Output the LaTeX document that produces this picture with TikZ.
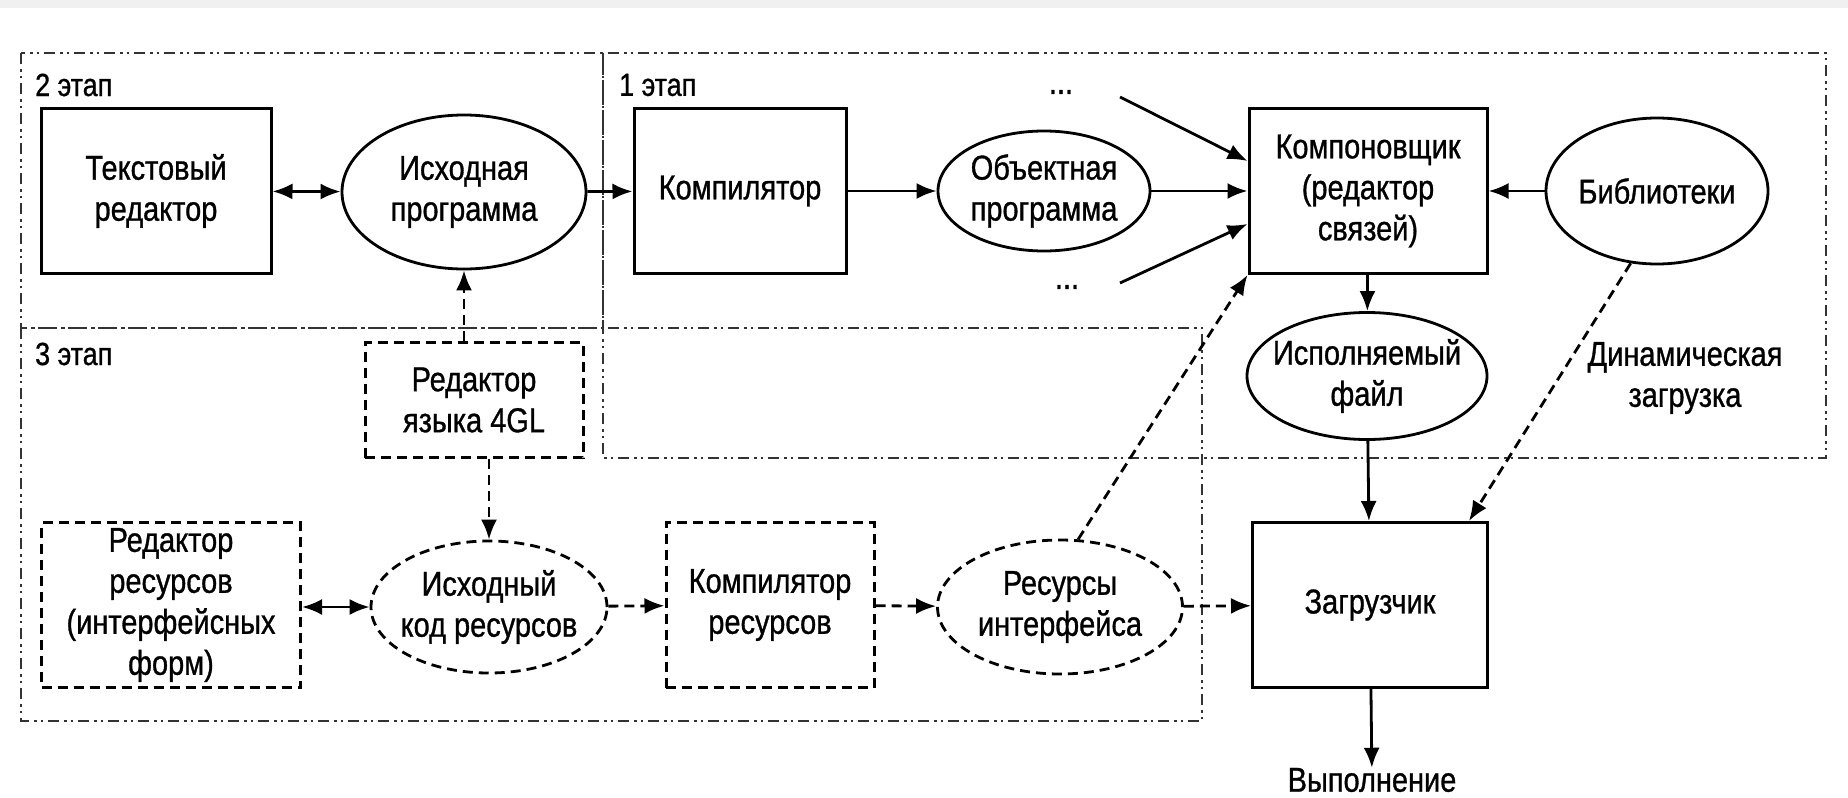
\documentclass[tikz,border=0pt]{standalone}
\usepackage{fontspec}
\setmainfont{Liberation Sans}[FakeStretch=0.84,FakeBold=0.9]
\usetikzlibrary{arrows.meta,shapes.geometric}
\tikzset{
  lbl/.style={font=\fontsize{34.5}{41}\selectfont, align=center, inner sep=0pt},
  stg/.style={font=\fontsize{32}{36}\selectfont, inner sep=0pt, anchor=west},
  sbox/.style={lbl, draw, line width=3pt, rectangle},
  dbox/.style={lbl, draw, line width=3pt, rectangle, dash pattern=on 10pt off 6pt},
  sell/.style={lbl, draw, ellipse, line width=2.8pt, inner sep=-45pt},
  dell/.style={sell, dash pattern=on 10pt off 6pt},
  frm/.style={line width=2.5pt, black!80, dash pattern=on 11pt off 5pt on 2.5pt off 4pt on 2.5pt off 5pt},
  arr/.style={-{Latex[length=20pt,width=16pt]}, line width=2.8pt},
  darr/.style={arr, dash pattern=on 10pt off 6pt},
  biarr/.style={{Latex[length=20pt,width=16pt]}-{Latex[length=20pt,width=16pt]}, line width=2.8pt}
}
\begin{document}
\begin{tikzpicture}[x=1pt,y=-1pt]
\useasboundingbox (0,0) rectangle (1848,798);
\fill[gray!12] (0,0) rectangle (1848,8);
% frames
\draw[frm] (21,53) rectangle (603,328);
\draw[frm] (603,53) rectangle (1826,458);
\draw[frm] (21,328) rectangle (1202,721);
\node[stg] (l2) at (35,85) {2 этап};
\node[stg] (l1) at (619,85) {1 этап};
\node[stg] (l3) at (35,354) {3 этап};
% nodes
\node[sbox, minimum width=230pt, minimum height=165pt] (ted) at (156,191) {Текстовый\\редактор};
\node[sell, minimum width=244pt, minimum height=154pt] (src) at (464,192) {Исходная\\программа};
\node[sbox, minimum width=212pt, minimum height=165pt] (cmp) at (740,191) {Компилятор};
\node[sell, minimum width=212pt, minimum height=120pt] (obj) at (1044,191) {Объектная\\программа};
\node[sbox, minimum width=238pt, minimum height=165pt] (lnk) at (1368,191) {Компоновщик\\(редактор\\связей)};
\node[sell, minimum width=222pt, minimum height=146pt] (lib) at (1657,191) {Библиотеки};
\node[sell, minimum width=240pt, minimum height=127pt] (exe) at (1367,376) {Исполняемый\\файл};
\node[lbl] (dyn) at (1685,378) {Динамическая\\загрузка};
\node[sbox, minimum width=235pt, minimum height=165pt] (ldr) at (1370,605) {Загрузчик};
\node[lbl] (run) at (1372,780) {Выполнение};
\node[lbl] (d1) at (1061,92) {...};
\node[lbl] (d2) at (1067,287) {...};
\coordinate (s1) at (1120,97);
\coordinate (s2) at (1120,283);
\node[dbox, minimum width=218pt, minimum height=115pt] (g4) at (474,400) {Редактор\\языка 4GL};
\node[dbox, minimum width=259pt, minimum height=165pt] (red) at (171,605) {Редактор\\ресурсов\\(интерфейсных\\форм)};
\node[dell, minimum width=236pt, minimum height=132pt] (srcr) at (489,607) {Исходный\\код ресурсов};
\node[dbox, minimum width=208pt, minimum height=165pt] (rcmp) at (770,605) {Компилятор\\ресурсов};
\node[dell, minimum width=245pt, minimum height=134pt] (rint) at (1060,607) {Ресурсы\\интерфейса};
% connectors
\draw[biarr] (ted) -- (src);
\draw[arr] (src) -- (cmp);
\draw[arr] (cmp) -- (obj);
\draw[arr] (obj) -- (lnk);
\draw[arr] (s1) -- ([yshift=30pt]lnk.west);
\draw[arr] (s2) -- ([yshift=-33pt]lnk.west);
\draw[darr] (rint.75) -- (lnk.south west);
\draw[arr] (lib) -- (lnk);
\draw[arr] (lnk) -- (exe);
\draw[arr] (exe) -- (ldr);
\draw[darr] (lib.250) -- ([xshift=-20pt]ldr.north east);
\draw[arr] (ldr) -- (run);
\draw[darr] (src.south |- g4.north) -- (src.south);
\draw[darr] (srcr.north |- g4.south) -- (srcr.north);
\draw[biarr] (red.east |- srcr) -- (srcr.west);
\draw[darr] (srcr) -- (rcmp);
\draw[darr] (rcmp) -- (rint);
\draw[darr] (rint) -- (ldr);
\end{tikzpicture}
\end{document}
